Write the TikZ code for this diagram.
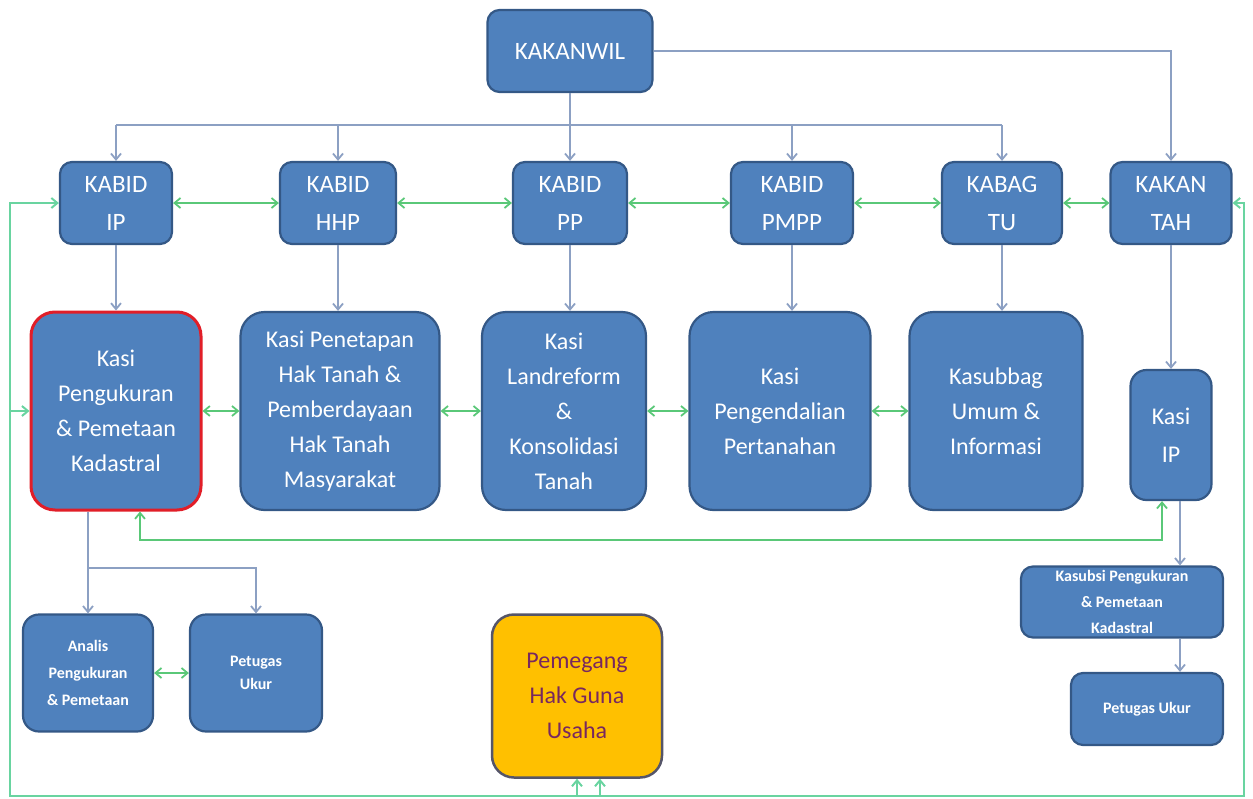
\documentclass[tikz,border=0pt]{standalone}
\usepackage{fontspec}
\setmainfont{Carlito}
\usetikzlibrary{arrows.meta}
\definecolor{boxblue}{RGB}{79,129,189}
\definecolor{boxborder}{RGB}{52,88,134}
\definecolor{grayline}{RGB}{140,160,195}
\definecolor{greenline}{RGB}{90,200,120}
\definecolor{frameline}{RGB}{105,212,160}
\definecolor{redborder}{RGB}{225,30,40}
\definecolor{amber}{RGB}{255,192,0}
\definecolor{plum}{RGB}{120,40,95}
\begin{document}
\begin{tikzpicture}[x=1pt,y=-1pt,
  box/.style={draw=boxborder, line width=2.2pt, fill=boxblue, text=white,
    rounded corners=#1, align=center, inner sep=0pt},
  box/.default=12pt,
  big/.style={font=\fontsize{25}{38}\selectfont},
  mid/.style={font=\fontsize{24}{35}\selectfont},
  small/.style={font=\bfseries\fontsize{16}{27}\selectfont},
  garrow/.style={draw=grayline, line width=1.8pt, -{Straight Barb[length=6pt,width=10pt]}},
  gline/.style={draw=grayline, line width=1.8pt},
  gdbl/.style={draw=greenline, line width=1.8pt, {Straight Barb[length=6pt,width=10pt]}-{Straight Barb[length=6pt,width=10pt]}},
  gone/.style={draw=greenline, line width=1.8pt, -{Straight Barb[length=6pt,width=10pt]}},
  fdbl/.style={draw=frameline, line width=2pt, {Straight Barb[length=6pt,width=10pt]}-{Straight Barb[length=6pt,width=10pt]}},
  fone/.style={draw=frameline, line width=2pt, -{Straight Barb[length=6pt,width=10pt]}}
]
\useasboundingbox (0,0) rectangle (1253,798);

% top
\node[box, big, minimum width=165, minimum height=82] (kakanwil) at (570,51) {KAKANWIL};

% row 1
\node[box, big, minimum width=112, minimum height=82] (ip)   at (116,203) {KABID\\IP};
\node[box, big, minimum width=116, minimum height=82] (hhp)  at (338,203) {KABID\\HHP};
\node[box, big, minimum width=114, minimum height=82] (pp)   at (570,203) {KABID\\PP};
\node[box, big, minimum width=122, minimum height=82] (pmpp) at (792,203) {KABID\\PMPP};
\node[box, big, minimum width=120, minimum height=82] (tu)   at (1002,203) {KABAG\\TU};
\node[box, big, minimum width=121, minimum height=82] (tah)  at (1171,203) {KAKAN\\TAH};

% row 2
\node[box=24pt, mid, draw=redborder, line width=3pt, minimum width=170, minimum height=198] (kp) at (116,411) {Kasi\\Pengukuran\\\& Pemetaan\\Kadastral};
\node[box=24pt, mid, minimum width=199, minimum height=198] (kpen)  at (340,411) {Kasi Penetapan\\Hak Tanah \&\\Pemberdayaan\\Hak Tanah\\Masyarakat};
\node[box=24pt, mid, minimum width=164, minimum height=198] (kland) at (564,411) {Kasi\\Landreform\\\&\\Konsolidasi\\Tanah};
\node[box=24pt, mid, minimum width=181, minimum height=198] (kpeng) at (780,411) {Kasi\\Pengendalian\\Pertanahan};
\node[box=24pt, mid, minimum width=173, minimum height=198] (ksub)  at (996,411) {Kasubbag\\Umum \&\\Informasi};
\node[box=16pt, mid, font=\fontsize{24}{38}\selectfont, minimum width=81, minimum height=130] (kip) at (1171,435) {Kasi\\IP};

% row 3
\node[box=16pt, small, minimum width=130, minimum height=117] (analis) at (88,673) {Analis\\Pengukuran\\\& Pemetaan};
\node[box=16pt, small, font=\bfseries\fontsize{16}{23}\selectfont, minimum width=132, minimum height=117] (pet1) at (256,673) {Petugas\\Ukur};
\node[box=22pt, mid, fill=amber, draw={rgb,255:red,85;green,85;blue,105}, line width=2.5pt, text=plum, minimum width=170, minimum height=163] (pem) at (577,696) {Pemegang\\Hak Guna\\Usaha};
\node[box=12pt, small, font=\bfseries\fontsize{16}{26}\selectfont, minimum width=202, minimum height=71] (kasubsi) at (1122,602) {Kasubsi Pengukuran\\\& Pemetaan\\Kadastral};
\node[box=12pt, small, minimum width=152, minimum height=72] (pet2) at (1147,709) {Petugas Ukur};

% gray hierarchy
\coordinate (busL) at (116,125);
\coordinate (busR) at (1002,125);
\draw[garrow] (kakanwil.south) -- (pp.north);
\draw[gline] (busL) -- (busR);
\draw[garrow] (busL) -- (ip.north);
\draw[garrow] (hhp.north |- busL) -- (hhp.north);
\draw[garrow] (pmpp.north |- busL) -- (pmpp.north);
\draw[garrow] (busR) -- (tu.north);
\draw[garrow] (kakanwil.east) -| (tah.north);

\draw[garrow] (ip.south) -- (kp.north);
\draw[garrow] (hhp.south) -- (hhp.south |- kpen.north);
\draw[garrow] (pp.south) -- (pp.south |- kland.north);
\draw[garrow] (pmpp.south) -- (pmpp.south |- kpeng.north);
\draw[garrow] (tu.south) -- (tu.south |- ksub.north);
\draw[garrow] (tah.south) -- (kip.north);

\coordinate (br) at (88,568);
\draw[gline] (kp.south -| br) -- (br);
\draw[garrow] (br) -- (analis.north);
\draw[garrow] (br) -| (pet1.north);

\coordinate (kipb) at (1180,500);
\draw[garrow] (kip.south -| kipb) -- (kasubsi.north -| kipb);
\draw[garrow] (kasubsi.south -| kipb) -- (pet2.north -| kipb);

% green links row 1
\draw[gdbl] (ip.east) -- (hhp.west);
\draw[gdbl] (hhp.east) -- (pp.west);
\draw[gdbl] (pp.east) -- (pmpp.west);
\draw[gdbl] (pmpp.east) -- (tu.west);
\draw[gdbl] (tu.east) -- (tah.west);

% green links row 2
\draw[gdbl] (kp.east) -- (kpen.west);
\draw[gdbl] (kpen.east) -- (kland.west);
\draw[gdbl] (kland.east) -- (kpeng.west);
\draw[gdbl] (kpeng.east) -- (ksub.west);

\coordinate (kpg) at (140,540);
\coordinate (kipg) at (1162,540);
\draw[gdbl] (kp.south -| kpg) -- (kpg) -- (kipg) -- (kip.south -| kipg);

% row 3
\draw[gdbl] (analis.east) -- (pet1.west);

% outer frame
\coordinate (fl) at (10,796);
\coordinate (fr) at (1244,796);
\draw[fdbl] (tah.east) -| (fr) -- (fl) |- (ip.west);
\draw[fone] (fl |- kp.west) -- (kp.west);
\coordinate (pa) at (577,796);
\coordinate (pb) at (600,796);
\draw[fone] (pa) -- (pem.south -| pa);
\draw[fone] (pb) -- (pem.south -| pb);
\end{tikzpicture}
\end{document}
